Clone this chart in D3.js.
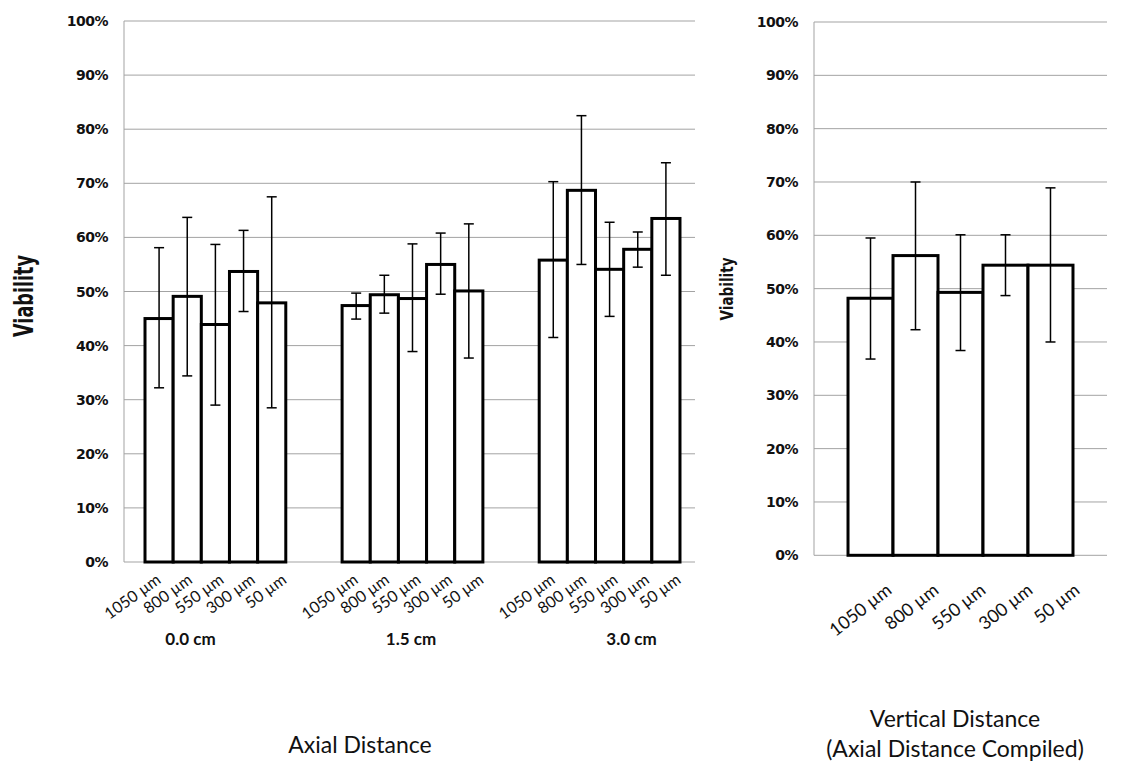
<!DOCTYPE html>
<html>
<head>
<meta charset="utf-8">
<script src="https://cdn.jsdelivr.net/npm/d3@7"></script>
<style>
  body { margin: 0; background: #fff; }
  svg { display: block; }
</style>
</head>
<body>
<div id="chart"></div>
<script>
// Viability by depth, per axial distance (left) and compiled (right)
const depths = ["1050 µm", "800 µm", "550 µm", "300 µm", "50 µm"];
const axialGroups = ["0.0 cm", "1.5 cm", "3.0 cm"];

// mean viability per group, one value per depth
const axialMeans = [
    [0.450, 0.491, 0.439, 0.537, 0.479],
    [0.474, 0.494, 0.487, 0.550, 0.501],
    [0.558, 0.687, 0.541, 0.578, 0.635]
];
// error bar ends
const axialLow = [
    [0.322, 0.344, 0.290, 0.463, 0.285],
    [0.449, 0.460, 0.389, 0.495, 0.377],
    [0.415, 0.550, 0.454, 0.545, 0.530]
];
const axialHigh = [
    [0.581, 0.637, 0.587, 0.613, 0.675],
    [0.497, 0.530, 0.588, 0.608, 0.625],
    [0.703, 0.825, 0.628, 0.610, 0.738]
];

const compiledMeans = [0.482, 0.562, 0.493, 0.544, 0.544];
const compiledLow = [0.368, 0.423, 0.384, 0.487, 0.400];
const compiledHigh = [0.595, 0.700, 0.601, 0.601, 0.689];

const width = 1123, height = 769;
const gridColor = "#a3a3a3";
const tickFont = "'DejaVu Sans', Verdana, sans-serif";
const labelFont = "Lato, 'Open Sans', sans-serif";

const svg = d3.select("#chart").append("svg")
    .attr("width", width)
    .attr("height", height);

svg.append("rect").attr("width", width).attr("height", height).attr("fill", "#fff");

function drawGrid(g, y, x0, x1) {
    g.append("g")
        .selectAll("line")
        .data(y.ticks(10))
        .join("line")
        .attr("x1", x0)
        .attr("x2", x1)
        .attr("y1", d => y(d))
        .attr("y2", d => y(d))
        .attr("stroke", gridColor)
        .attr("stroke-width", 1);
    g.append("line")
        .attr("x1", x0).attr("x2", x0)
        .attr("y1", y(1)).attr("y2", y(0))
        .attr("stroke", gridColor);
    g.append("g")
        .selectAll("text")
        .data(y.ticks(10))
        .join("text")
        .attr("x", x0 - 16)
        .attr("y", d => y(d))
        .attr("dy", "0.36em")
        .attr("text-anchor", "end")
        .style("font", `bold 14px ${tickFont}`)
        .style("letter-spacing", "-0.5px")
        .attr("fill", "#111")
        .text(d3.format(".0%"));
}

function drawBars(g, items) {
    // items: {x, w, y, v, lo, hi}
    g.append("g")
        .selectAll("rect")
        .data(items)
        .join("rect")
        .attr("x", d => d.x)
        .attr("width", d => d.w)
        .attr("y", d => d.y(d.v))
        .attr("height", d => d.y(0) - d.y(d.v))
        .attr("fill", "#fff")
        .attr("stroke", "#000")
        .attr("stroke-width", 3);
    const err = g.append("g")
        .attr("stroke", "#000")
        .attr("stroke-width", 1.5)
        .selectAll("g")
        .data(items)
        .join("g");
    err.append("line")
        .attr("x1", d => d.x + d.w / 2).attr("x2", d => d.x + d.w / 2)
        .attr("y1", d => d.y(d.lo)).attr("y2", d => d.y(d.hi));
    err.append("line")
        .attr("x1", d => d.x + d.w / 2 - 5).attr("x2", d => d.x + d.w / 2 + 5)
        .attr("y1", d => d.y(d.lo)).attr("y2", d => d.y(d.lo));
    err.append("line")
        .attr("x1", d => d.x + d.w / 2 - 5).attr("x2", d => d.x + d.w / 2 + 5)
        .attr("y1", d => d.y(d.hi)).attr("y2", d => d.y(d.hi));
}

// ---- Left chart: Axial distance ----
const left = svg.append("g");
const yL = d3.scaleLinear().domain([0, 1]).range([562, 21]);
const xGroup = d3.scaleBand().domain(axialGroups).range([145, 736.3]);
const xDepth = d3.scaleBand().domain(depths).range([0, xGroup.bandwidth() * 5 / 7]);
// tick labels sit in their own text boxes, spaced a little wider than the bars
const xDepthLabel = d3.scalePoint().domain(depths).range([17, 17 + 4 * 31.4]);
const xGroupLabel = d3.scalePoint().domain(axialGroups).range([190.5, 631.5]);

drawGrid(left, yL, 124, 695);

const leftItems = [];
axialGroups.forEach((grp, gi) => {
    depths.forEach((dep, di) => {
        leftItems.push({
            group: grp, depth: dep,
            x: xGroup(grp) + xDepth(dep), w: xDepth.bandwidth(), y: yL,
            v: axialMeans[gi][di], lo: axialLow[gi][di], hi: axialHigh[gi][di]
        });
    });
});
drawBars(left, leftItems);

left.append("g")
    .selectAll("text")
    .data(leftItems)
    .join("text")
    .attr("transform", d => `translate(${xGroup(d.group) + xDepthLabel(d.depth)},${yL(0) + 20}) rotate(-36)`)
    .attr("text-anchor", "end")
    .style("font", `16px ${labelFont}`)
    .attr("fill", "#111")
    .text(d => d.depth);

left.append("g")
    .selectAll("text")
    .data(axialGroups)
    .join("text")
    .attr("x", d => xGroupLabel(d))
    .attr("y", 645)
    .attr("text-anchor", "middle")
    .style("font", `bold 17px ${labelFont}`)
    .attr("fill", "#111")
    .text(d => d);

left.append("text")
    .attr("transform", `translate(33,296) rotate(-90)`)
    .attr("text-anchor", "middle")
    .attr("textLength", 82)
    .attr("lengthAdjust", "spacingAndGlyphs")
    .style("font", `bold 27px ${tickFont}`)
    .attr("fill", "#111")
    .text("Viability");

left.append("text")
    .attr("x", 360)
    .attr("y", 753)
    .attr("text-anchor", "middle")
    .style("font", `23px ${labelFont}`)
    .attr("fill", "#111")
    .text("Axial Distance");

// ---- Right chart: compiled ----
const right = svg.append("g");
const yR = d3.scaleLinear().domain([0, 1]).range([555.3, 22]);
const xR = d3.scaleBand().domain(depths).range([814, 1107]).paddingOuter(0.756);
const xRLabel = d3.scalePoint().domain(depths).range([893, 893 + 4 * 47]);

drawGrid(right, yR, 814, 1107);

const rightItems = depths.map((dep, i) => ({
    depth: dep, x: xR(dep), w: xR.bandwidth(), y: yR,
    v: compiledMeans[i], lo: compiledLow[i], hi: compiledHigh[i]
}));
drawBars(right, rightItems);

right.append("g")
    .selectAll("text")
    .data(rightItems)
    .join("text")
    .attr("transform", d => `translate(${xRLabel(d.depth)},${yR(0) + 37}) rotate(-38)`)
    .attr("text-anchor", "end")
    .style("font", `18px ${labelFont}`)
    .attr("fill", "#111")
    .text(d => d.depth);

right.append("text")
    .attr("transform", `translate(733,289) rotate(-90)`)
    .attr("text-anchor", "middle")
    .attr("textLength", 63)
    .attr("lengthAdjust", "spacingAndGlyphs")
    .style("font", `bold 17px ${tickFont}`)
    .attr("fill", "#111")
    .text("Viability");

right.append("text")
    .attr("x", 955)
    .attr("y", 727)
    .attr("text-anchor", "middle")
    .style("font", `23px ${labelFont}`)
    .attr("fill", "#111")
    .text("Vertical Distance");

right.append("text")
    .attr("x", 955)
    .attr("y", 757)
    .attr("text-anchor", "middle")
    .style("font", `23px ${labelFont}`)
    .attr("fill", "#111")
    .text("(Axial Distance Compiled)");
</script>
</body>
</html>
